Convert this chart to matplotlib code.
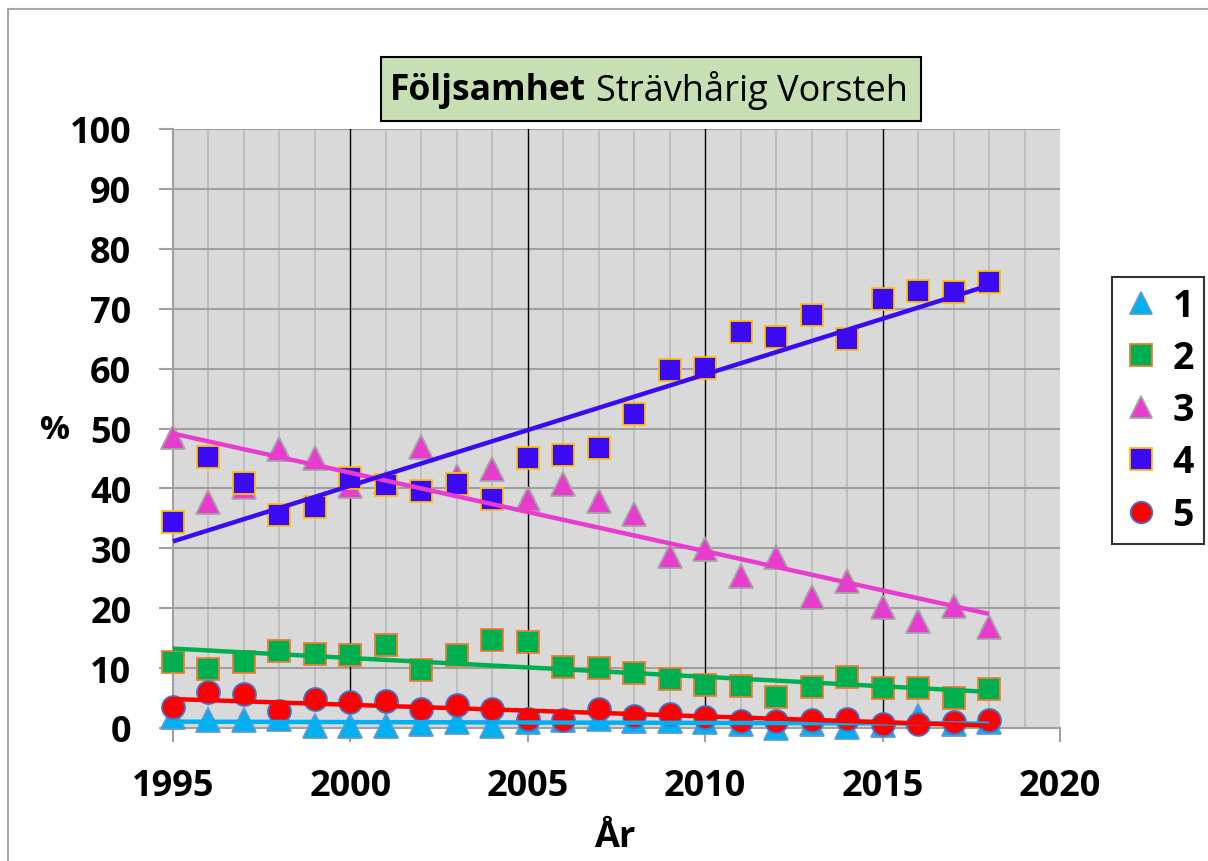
import numpy as np
import matplotlib
matplotlib.use("Agg")
import matplotlib.pyplot as plt
from matplotlib.patches import Rectangle
from matplotlib.lines import Line2D

plt.rcParams['font.family'] = ['Open Sans', 'DejaVu Sans']

years = list(range(1995, 2019))
s1 = [1.8, 1.3, 1.3, 1.5, 0.3, 0.3, 0.3, 0.7, 1.0, 0.3, 1.0, 1.3,
      1.5, 1.2, 1.2, 1.0, 0.6, 0.0, 0.7, 0.2, 0.5, 2.0, 0.6, 1.0]
s2 = [11.0, 9.8, 11.0, 12.9, 12.4, 12.2, 13.9, 9.7, 12.2, 14.7, 14.4, 10.2,
      10.0, 9.2, 8.2, 7.2, 7.0, 5.2, 6.8, 8.5, 6.7, 6.7, 5.0, 6.5]
s3 = [48.5, 37.7, 40.3, 46.6, 45.0, 40.4, 41.0, 46.9, 42.0, 43.2, 38.2, 40.7,
      37.9, 35.7, 28.7, 29.9, 25.4, 28.5, 21.9, 24.5, 20.2, 17.9, 20.4, 16.9]
s4 = [34.4, 45.2, 40.9, 35.6, 36.9, 41.7, 40.6, 39.6, 40.7, 38.2, 45.1, 45.6,
      46.7, 52.4, 59.8, 60.1, 66.1, 65.3, 68.9, 64.9, 71.6, 73.0, 72.8, 74.5]
s5 = [3.5, 6.0, 5.7, 2.8, 4.8, 4.3, 4.5, 3.2, 3.8, 3.2, 1.5, 1.3,
      3.2, 2.0, 2.3, 1.8, 1.2, 1.2, 1.3, 1.5, 0.7, 0.7, 1.0, 1.3]

labels = ['1', '2', '3', '4', '5']
series = [s1, s2, s3, s4, s5]
markers = ['^', 's', '^', 's', 'o']
faces = ['#00b0f0', '#00b050', '#e83ccf', '#3a0af2', '#ff0000']
edges = ['#5b9bd5', '#ed7d31', '#a5a5a5', '#ffc000', '#4472c4']
msizes = [17, 16.5, 17, 16.5, 16.5]
x_ticks = [1995, 2000, 2005, 2010, 2015, 2020]
y_ticks = list(range(0, 101, 10))

W, H = 1208, 862
fig = plt.figure(figsize=(W / 100, H / 100), dpi=100)

# outer border
fig.patches.append(Rectangle((8 / W, -0.1), 1.2, 1 - 10 / H + 0.1, transform=fig.transFigure,
                             fill=False, edgecolor='#a6a6a6', lw=1.5))

ax = fig.add_axes([173 / W, 1 - 729 / H, 887 / W, 599 / H])
ax.set_facecolor('#d9d9d9')
ax.set_xlim(1995, 2020)
ax.set_ylim(0, 100)

# grid
for yr in range(1996, 2020):
    if yr % 5 == 0:
        ax.axvline(yr, color='black', lw=1.0, zorder=1)
    else:
        ax.axvline(yr, color='#bdbdbd', lw=1.3, zorder=0.8)
for yv in y_ticks[1:]:
    ax.axhline(yv, color='#a0a0a0', lw=1.5, zorder=0.9)

for sp in ['top', 'right']:
    ax.spines[sp].set_visible(False)
for sp in ['left', 'bottom']:
    ax.spines[sp].set_color('#a0a0a0')
    ax.spines[sp].set_linewidth(1.5)

ax.set_xticks(x_ticks)
ax.set_yticks(y_ticks)
ax.tick_params(axis='both', direction='out', length=10, width=1.5, color='#a0a0a0',
               labelsize=26)
ax.tick_params(axis='y', pad=20)
ax.tick_params(axis='x', pad=19)
for lab in ax.get_xticklabels() + ax.get_yticklabels():
    lab.set_fontweight('bold')

yrs = np.array(years, dtype=float)
handles = []
for i, s in enumerate(series):
    ax.plot(years, s, linestyle='none', marker=markers[i], markersize=msizes[i],
            markerfacecolor=faces[i], markeredgecolor=edges[i], markeredgewidth=1.3,
            clip_on=False, zorder=3 + i)
    handles.append(Line2D([], [], linestyle='none', marker=markers[i], markersize=15.5,
                          markerfacecolor=faces[i], markeredgecolor=edges[i],
                          markeredgewidth=1.3))
for i, s in enumerate(series):
    k, m = np.polyfit(yrs, np.array(s), 1)
    ax.plot([yrs[0], yrs[-1]], [k * yrs[0] + m, k * yrs[-1] + m], color=faces[i],
            lw=3.2, solid_capstyle='butt', zorder=10 + i, clip_on=False)

fig.text(55 / W, 1 - 431 / H, '%', fontsize=24, fontweight='bold', ha='center', va='center')
fig.text(615 / W, 1 - 838 / H, 'År', fontsize=26, fontweight='bold', ha='center', va='center')

# title
fig.patches.append(Rectangle((381 / W, 1 - 122 / H), 540 / W, 64 / H, transform=fig.transFigure,
                             facecolor='#c6e0b4', edgecolor='black', lw=1.5))
fig.text(586 / W, 1 - 91 / H, 'Följsamhet', fontsize=25.5, fontweight='bold', ha='right', va='center')
fig.text(596 / W, 1 - 91 / H, 'Strävhårig Vorsteh', fontsize=26, ha='left', va='center')

leg = fig.legend(handles, labels, loc='upper left', bbox_to_anchor=(1112 / W, 1 - 278 / H),
                 borderaxespad=0, fancybox=False, frameon=True, edgecolor='black',
                 prop={'size': 27, 'weight': 'bold'}, labelspacing=0.38, handletextpad=0.35,
                 handlelength=1.0, borderpad=0.26)
leg.get_frame().set_linewidth(1.5)

fig.savefig('out.png', dpi=100)
